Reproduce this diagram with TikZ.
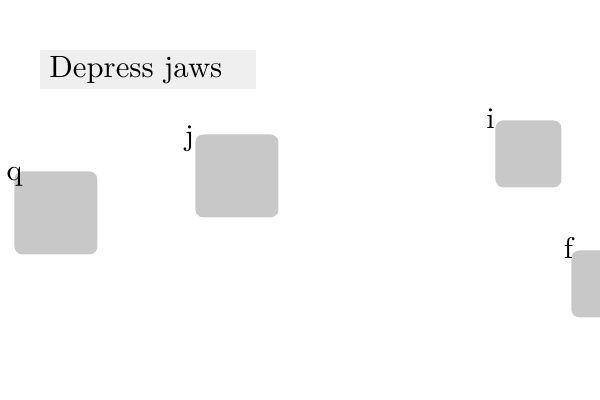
\documentclass[tikz,border=0pt]{standalone}
\usepackage{fontspec}
\setmainfont{lmroman10-regular}[Extension=.otf]
\usepackage{tikz}
\definecolor{boxgray}{HTML}{C8C8C8}
\definecolor{titlegray}{HTML}{EFEFEF}
\begin{document}
\begin{tikzpicture}[x=0.5pt,y=-0.5pt,
    every node/.style={font=\fontsize{15}{18}\selectfont},
    part/.style={fill=boxgray, rounded corners=4pt, inner sep=0pt, anchor=north west},
    tag/.style={anchor=base, inner sep=0pt}]
    \useasboundingbox (0,0) rectangle (600,400);
    \clip (0,0) rectangle (600,400);
    % title
    \node[fill=titlegray, anchor=north west, inner xsep=4.5pt, inner ysep=0pt,
          minimum height=19.5pt, text width=99pt, align=left,
          font=\fontsize{15.4}{18}\selectfont] (title) at (40,50) {Depress jaws};
    % parts
    \node[part, minimum width=41.5pt, minimum height=41.5pt] (q) at (14,171) {};
    \node[part, minimum width=41.5pt, minimum height=41.5pt] (j) at (195,134) {};
    \node[part, minimum width=33pt, minimum height=33.5pt] (i) at (495,120) {};
    \node[part, minimum width=33pt, minimum height=33.5pt] (f) at (571,250) {};
    % labels
    \node[tag] (qlabel) at (14.5,181) {q};
    \node[tag] (jlabel) at (189.5,146) {j};
    \node[tag] (ilabel) at (490.5,129) {i};
    \node[tag] (flabel) at (568.5,259) {f};
\end{tikzpicture}
\end{document}
